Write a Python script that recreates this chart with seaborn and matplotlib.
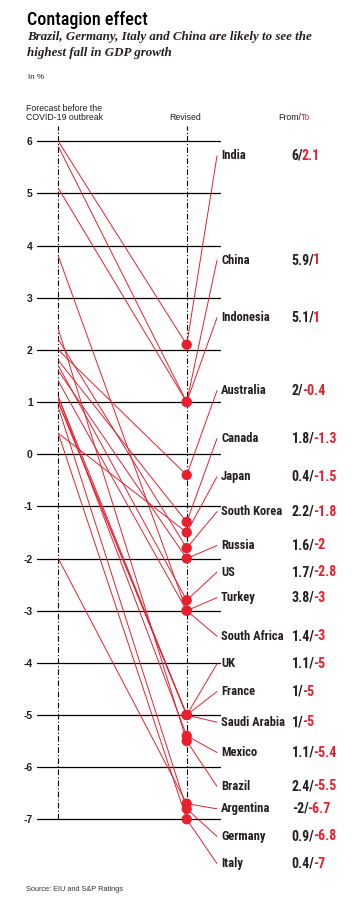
import matplotlib
matplotlib.use("Agg")
import matplotlib.pyplot as plt
import seaborn as sns
import pandas as pd

countries = ["India", "China", "Indonesia", "Australia", "Canada", "Japan",
             "South Korea", "Russia", "US", "Turkey", "South Africa", "UK",
             "France", "Saudi Arabia", "Mexico", "Brazil", "Argentina",
             "Germany", "Italy"]
before = [6, 5.9, 5.1, 2, 1.8, 0.4, 2.2, 1.6, 1.7, 3.8, 1.4, 1.1, 1, 1, 1.1,
          2.4, -2, 0.9, 0.4]
revised = [2.1, 1, 1, -0.4, -1.3, -1.5, -1.8, -2, -2.8, -3, -3, -5, -5, -5,
           -5.4, -5.5, -6.7, -6.8, -7]
# where the country names sit on the y scale
label_y = [5.72, 3.72, 2.62, 1.22, 0.30, -0.43, -1.10, -1.75, -2.26, -2.75,
           -3.49, -4.02, -4.55, -5.14, -5.72, -6.37, -6.80, -7.33, -7.85]
y_ticks = list(range(-7, 7))
tick_labels = [str(t) for t in y_ticks]

RED = "#e8202e"
INK = "#231f20"
COND = ["Roboto Condensed", "DejaVu Sans"]
SANS = ["Liberation Sans", "DejaVu Sans"]
SERIF = ["Liberation Serif", "DejaVu Serif"]

sns.set_theme(style="white")
plt.rcParams["font.family"] = SANS

W, H = 358, 908
fig = plt.figure(figsize=(W / 100, H / 100), dpi=100)


def fx(x):
    return x / W


def fy(y):
    return 1 - y / H


# axes placed so that "before" sits at x=58px, "revised" at x=187px
ax = fig.add_axes([fx(37), fy(824.5), fx(221 - 37), (824.5 - 126) / H])
ax.set_xlim(-0.166, 1.267)
ax.set_ylim(-7.1, 6.293)

n = len(countries)
df = pd.DataFrame({
    "country": countries * 2,
    "stage": [0] * n + [1] * n,
    "value": before + revised,
})

for t in y_ticks:
    ax.axhline(t, color="black", lw=0.9, zorder=1)
ax.vlines([0, 1], -7, 6.293, color="black", lw=0.8,
          linestyles=(0, (5, 2, 1, 2)), zorder=1)

sns.lineplot(data=df, x="stage", y="value", units="country", estimator=None,
             sort=False, color=RED, lw=0.7, legend=False, ax=ax, zorder=2)
sns.scatterplot(x=[1] * n, y=revised, color=RED, s=55, edgecolor="none",
                ax=ax, zorder=4, legend=False)

for c, b, r, ly in zip(countries, before, revised, label_y):
    ax.plot([1, 1.236], [r, ly], color=RED, lw=0.7, zorder=3, clip_on=False)
    ax.text(1.267, ly, c, fontsize=9, fontweight="bold", family=COND,
            color=INK, va="center", ha="left", clip_on=False)
    t1 = ax.text(1.818, ly, f"{b:g}/", fontsize=10, fontweight="bold",
                 family=COND, color=INK, va="center", ha="left", clip_on=False)
    ax.annotate(f"{r:g}", xy=(1, 0.5), xycoords=t1, xytext=(-1, 0),
                textcoords="offset points", fontsize=10,
                fontweight="bold", family=COND, color=RED, va="center",
                ha="left", annotation_clip=False)

ax.set_yticks(y_ticks, tick_labels, fontweight="bold", fontsize=7.5,
              color=INK)
ax.set_xticks([])
ax.tick_params(axis="y", length=0, pad=3)
ax.set_xlabel("")
ax.set_ylabel("")
sns.despine(ax=ax, left=True, bottom=True)
ax.patch.set_alpha(0)

# titles and notes
fig.text(fx(27), fy(25.3), "Contagion effect", fontsize=13, family=COND,
         fontweight=500, color="black", va="baseline")
fig.text(fx(27), fy(40), "Brazil, Germany, Italy and China are likely to see the",
         fontsize=9.4, family=SERIF, fontweight="bold", style="italic",
         color=INK, va="baseline")
fig.text(fx(27), fy(55.7), "highest fall in GDP growth",
         fontsize=9.4, family=SERIF, fontweight="bold", style="italic",
         color=INK, va="baseline")
fig.text(fx(28), fy(78.7), "In %", fontsize=5.8, color=INK, va="baseline")
fig.text(fx(26), fy(111), "Forecast before the", fontsize=6.3, color=INK,
         va="baseline")
fig.text(fx(26), fy(120.3), "COVID-19 outbreak", fontsize=6.3, color=INK,
         va="baseline")
fig.text(fx(169), fy(120.3), "Revised", fontsize=6.3, color=INK, va="baseline")
h1 = fig.text(fx(278), fy(120.3), "From/", fontsize=6.3, color=INK,
              va="baseline")
ax.annotate("To", xy=(1, 0), xycoords=h1, fontsize=6.3, color=RED,
            va="bottom", ha="left", annotation_clip=False)
fig.text(fx(26), fy(890.7), "Source: EIU and S&P Ratings", fontsize=5.3,
         color="#333333", va="baseline")

fig.savefig("out.png", dpi=100)
